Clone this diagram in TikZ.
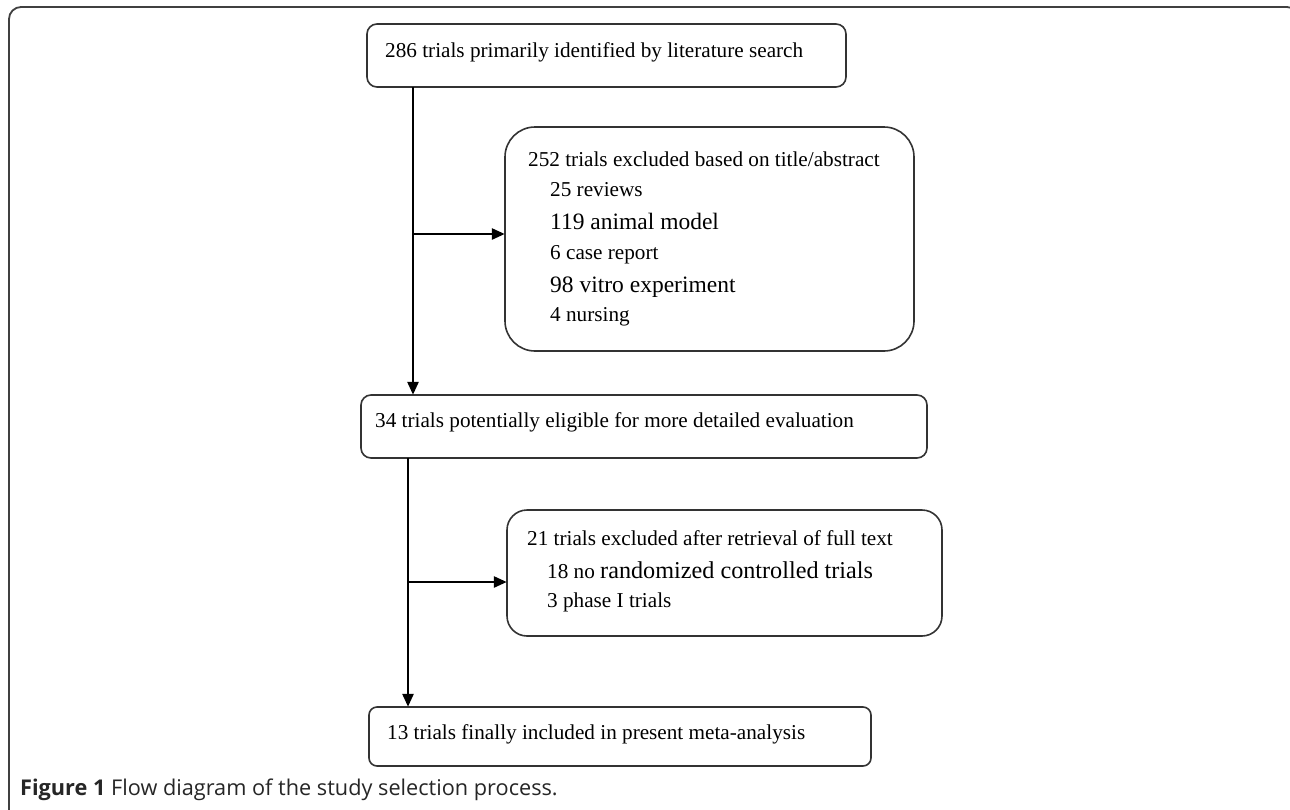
\documentclass[tikz,border=0pt]{standalone}
\usepackage{fontspec}
\setmainfont{Liberation Serif}
\newfontfamily\capfont{Open Sans}
\usetikzlibrary{arrows.meta}
\begin{document}
\begin{tikzpicture}[x=1pt,y=-1pt,
  frame/.style={draw=black!75,line width=1.8pt,rounded corners=12pt},
  flowbox/.style={draw=black!80,line width=1.6pt,rounded corners=#1},
  flowbox/.default=10pt,
  txt/.style={anchor=base west,inner sep=0pt,font=\fontsize{21.2}{24}\selectfont},
  big/.style={anchor=base west,inner sep=0pt,font=\fontsize{23.5}{26}\selectfont},
  flow/.style={draw=black,line width=2.6pt,-{Triangle[length=13pt,width=11pt]}},
  branch/.style={draw=black,line width=2.6pt,-{Triangle[length=13pt,width=11pt]}}
]
\useasboundingbox (0,0) rectangle (1290,809);
\fill[white] (0,0) rectangle (1290,809);
% outer frame
\draw[frame] (9,840) -- (9,7) -- (1299,7) -- (1299,840);

% boxes
\path[flowbox] (367,24) rectangle (846,87);
\node[inner sep=0pt,minimum width=479pt,minimum height=63pt] (b1) at (606.5,55.5) {};
\path[flowbox=30pt] (505,127) rectangle (914,351);
\node[inner sep=0pt,minimum width=409pt,minimum height=224pt] (b2) at (709.5,239) {};
\path[flowbox] (361,395) rectangle (927,458);
\node[inner sep=0pt,minimum width=566pt,minimum height=63pt] (b3) at (644,426.5) {};
\path[flowbox=20pt] (507,510) rectangle (942,636);
\node[inner sep=0pt,minimum width=435pt,minimum height=126pt] (b4) at (724.5,573) {};
\path[flowbox=8pt] (369,707) rectangle (871,766);
\node[inner sep=0pt,minimum width=502pt,minimum height=59pt] (b5) at (620,736.5) {};

% texts
\node[txt] (t1) at (385,57) {286 trials primarily identified by literature search};
\node[txt] (t2a) at (528,166) {252 trials excluded based on title/abstract};
\node[txt] (t2b) at (550,196) {25 reviews};
\node[big] (t2c) at (550,229) {119 animal model};
\node[txt] (t2d) at (550,259) {6 case report};
\node[big] (t2e) at (550,292) {98 vitro experiment};
\node[txt] (t2f) at (550,321) {4 nursing};
\node[txt] (t3) at (375,427) {34 trials potentially eligible for more detailed evaluation};
\node[txt] (t4a) at (527,545) {21 trials excluded after retrieval of full text};
\node[txt] (t4b) at (547,578) {18 no {\fontsize{24.2}{26}\selectfont randomized controlled trials}};
\node[txt] (t4c) at (547,607) {3 phase I trials};
\node[txt] (t5) at (387,739) {13 trials finally included in present meta-analysis};

% connectors
\coordinate (v1) at (413,0);
\coordinate (v2) at (408,0);
\coordinate (h1) at (0,234);
\coordinate (h2) at (0,582);
\draw[flow] (b1.south -| v1) -- (b3.north -| v1);
\draw[branch] (v1 |- h1) -- (b2.west |- h1);
\draw[flow] (b3.south -| v2) -- (b5.north -| v2);
\draw[branch] (v2 |- h2) -- (b4.west |- h2);

% caption
\node[anchor=base west,inner sep=0pt,font=\capfont\fontsize{21.7}{24}\selectfont,text=black!85] (cap) at (20,795)
  {\textbf{Figure 1} Flow diagram of the study selection process.};
\end{tikzpicture}
\end{document}
